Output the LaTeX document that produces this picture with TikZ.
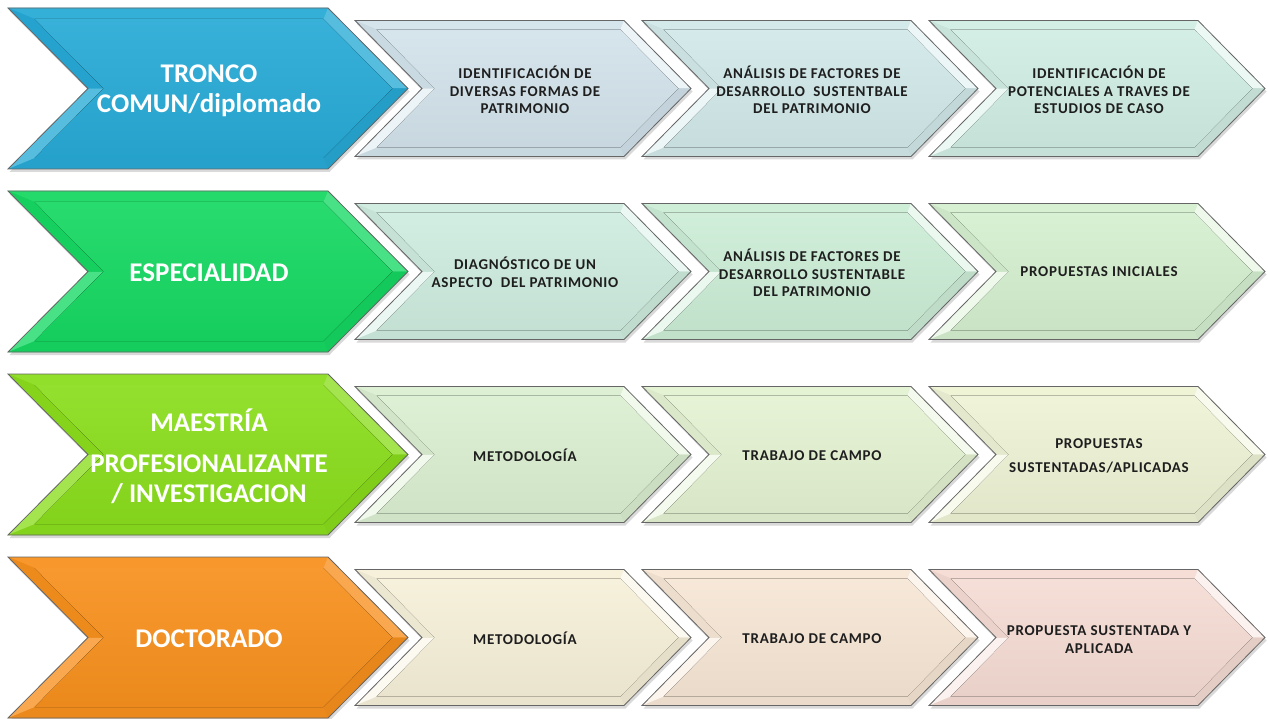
\documentclass[tikz,border=0pt]{standalone}
\usepackage{fontspec}
\setmainfont{Carlito}
\newfontfamily\smallfont[LetterSpace=5]{Carlito}
\usetikzlibrary{shadows}

\definecolor{bigA}{HTML}{27AAD6}
\definecolor{bigB}{HTML}{16D862}
\definecolor{bigC}{HTML}{8ADD1C}
\definecolor{bigD}{HTML}{F7901D}
\definecolor{sA1}{HTML}{D3E3EB}
\definecolor{sA2}{HTML}{D1E8E9}
\definecolor{sA3}{HTML}{D0EDE3}
\definecolor{sB1}{HTML}{CEECDF}
\definecolor{sB2}{HTML}{CCEDD6}
\definecolor{sB3}{HTML}{D5EFCF}
\definecolor{sC1}{HTML}{DBEFD1}
\definecolor{sC2}{HTML}{E4F2D2}
\definecolor{sC3}{HTML}{EEF3D5}
\definecolor{sD1}{HTML}{F6F0D9}
\definecolor{sD2}{HTML}{F6E6D5}
\definecolor{sD3}{HTML}{F5DCD4}
\definecolor{txt}{HTML}{1E1E1E}

% #1 L, #2 R, #3 T, #4 B, #5 depth, #6 bevel, #7 colour, #8 highlight mix
\newcommand\chev[8]{%
  \pgfmathsetmacro\cM{(#3+#4)/2}%
  \pgfmathsetmacro\cA{#2-#5}%
  \pgfmathsetmacro\cN{#1+#5}%
  \pgfmathsetmacro\iL{#1+2.414*#6}%
  \pgfmathsetmacro\iA{#2-#5-0.414*#6}%
  \pgfmathsetmacro\iR{#2-1.414*#6}%
  \pgfmathsetmacro\iN{#1+#5+1.414*#6}%
  \pgfmathsetmacro\iT{#3+#6}%
  \pgfmathsetmacro\iB{#4-#6}%
  \fill[#7!95!black, drop shadow={shadow xshift=1.5pt, shadow yshift=-3pt, opacity=0.3}]
    (#1,#3) -- (\cA,#3) -- (#2,\cM) -- (\cA,#4) -- (#1,#4) -- (\cN,\cM) -- cycle;
  \fill[#7!94!white] (#1,#3) -- (\cA,#3) -- (\iA,\iT) -- (\iL,\iT) -- cycle;
  \fill[#7!#8!white] (\cA,#3) -- (#2,\cM) -- (\iR,\cM) -- (\iA,\iT) -- cycle;
  \fill[#7!93!black] (#2,\cM) -- (\cA,#4) -- (\iA,\iB) -- (\iR,\cM) -- cycle;
  \fill[#7!95!black] (\cA,#4) -- (#1,#4) -- (\iL,\iB) -- (\iA,\iB) -- cycle;
  \fill[#7!#8!white] (#1,#4) -- (\cN,\cM) -- (\iN,\cM) -- (\iL,\iB) -- cycle;
  \fill[#7!96!black] (#1,#3) -- (\cN,\cM) -- (\iN,\cM) -- (\iL,\iT) -- cycle;
  \fill[top color=#7!92!white, bottom color=#7!95!black]
    (\iL,\iT) -- (\iA,\iT) -- (\iR,\cM) -- (\iA,\iB) -- (\iL,\iB) -- (\iN,\cM) -- cycle;
  \draw[black!60, line width=0.8pt, line join=miter]
    (#1,#3) -- (\cA,#3) -- (#2,\cM) -- (\cA,#4) -- (#1,#4) -- (\cN,\cM) -- cycle;
}

\tikzset{
  bigtxt/.style={text=white, align=center, inner sep=0pt,
    font=\fontsize{27}{30}\selectfont\bfseries},
  smalltxt/.style={text=txt, align=center, inner sep=0pt,
    font=\smallfont\fontsize{15}{17.5}\selectfont\bfseries}
}

\begin{document}
\begin{tikzpicture}[x=1pt, y=-1pt]
\useasboundingbox (0,0) rectangle (1268,719);

% Row 1
\chev{8}{408}{8}{169}{80}{11}{bigA}{78}
\chev{355}{691}{20.5}{156.5}{67}{9}{sA1}{40}
\chev{642}{978}{20.5}{156.5}{67}{9}{sA2}{40}
\chev{929}{1265}{20.5}{156.5}{67}{9}{sA3}{40}
% Row 2
\chev{8}{408}{191}{352}{80}{11}{bigB}{78}
\chev{355}{691}{203.5}{339.5}{67}{9}{sB1}{40}
\chev{642}{978}{203.5}{339.5}{67}{9}{sB2}{40}
\chev{929}{1265}{203.5}{339.5}{67}{9}{sB3}{40}
% Row 3
\chev{8}{408}{374}{535}{80}{11}{bigC}{78}
\chev{355}{691}{386.5}{522.5}{67}{9}{sC1}{40}
\chev{642}{978}{386.5}{522.5}{67}{9}{sC2}{40}
\chev{929}{1265}{386.5}{522.5}{67}{9}{sC3}{40}
% Row 4
\chev{8}{408}{557}{718}{80}{11}{bigD}{78}
\chev{355}{691}{569.5}{705.5}{67}{9}{sD1}{40}
\chev{642}{978}{569.5}{705.5}{67}{9}{sD2}{40}
\chev{929}{1265}{569.5}{705.5}{67}{9}{sD3}{40}

% Texts
\node[bigtxt] (b1) at (209,91) {TRONCO\\COMUN/diplomado};
\node[smalltxt] (a1) at (525,90) {IDENTIFICACIÓN DE\\DIVERSAS FORMAS DE\\PATRIMONIO};
\node[smalltxt] (a2) at (812,90) {ANÁLISIS DE FACTORES DE\\DESARROLLO\ \ SUSTENTBALE\\DEL PATRIMONIO};
\node[smalltxt] (a3) at (1099,90) {IDENTIFICACIÓN DE\\POTENCIALES A TRAVES DE\\ESTUDIOS DE CASO};

\node[bigtxt] (b2) at (209,273) {ESPECIALIDAD};
\node[smalltxt] (c1) at (525,272.5) {DIAGNÓSTICO DE UN\\ASPECTO\ \ DEL PATRIMONIO};
\node[smalltxt] (c2) at (812,273) {ANÁLISIS DE FACTORES DE\\DESARROLLO SUSTENTABLE\\DEL PATRIMONIO};
\node[smalltxt] (c3) at (1099,271.5) {PROPUESTAS INICIALES};

\node[bigtxt] (b3) at (209,456) {MAESTRÍA\\[11pt]PROFESIONALIZANTE\\/ INVESTIGACION};
\node[smalltxt] (d1) at (525,455.5) {METODOLOGÍA};
\node[smalltxt] (d2) at (812,455.5) {TRABAJO DE CAMPO};
\node[smalltxt] (d3) at (1099,455.5) {PROPUESTAS\\[6.5pt]SUSTENTADAS/APLICADAS};

\node[bigtxt] (b4) at (209,639) {DOCTORADO};
\node[smalltxt] (e1) at (525,638.5) {METODOLOGÍA};
\node[smalltxt] (e2) at (812,638.5) {TRABAJO DE CAMPO};
\node[smalltxt] (e3) at (1099,639.5) {PROPUESTA SUSTENTADA Y\\APLICADA};
\end{tikzpicture}
\end{document}
